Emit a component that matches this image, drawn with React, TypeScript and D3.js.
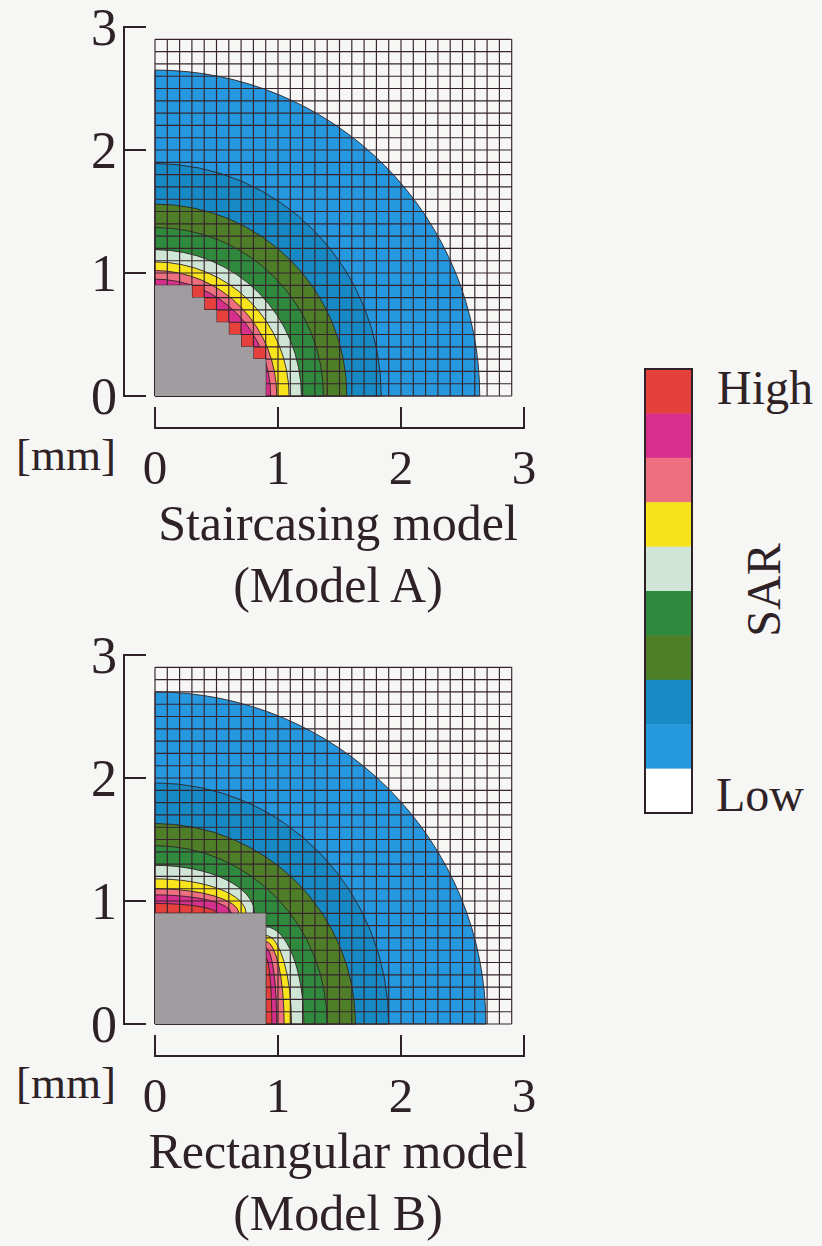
import { useEffect, useRef } from 'react';
import * as d3 from 'd3';

// SAR levels, high -> low
const levelNames = ['red', 'magenta', 'salmon', 'yellow', 'pale', 'green', 'olive', 'teal', 'blue', 'white'];
const levelColors = ['#e6403c', '#d6308c', '#ee7080', '#f8e41c', '#cfe5d6', '#2f8a3e', '#4e7f28', '#178ac6', '#2598df', '#ffffff'];

const axisTicks = [0, 1, 2, 3];
const gridCells = 29; // cells of 0.1 mm
const cellSize = 0.1;

// Model A (staircasing): cells per row, bottom row first
const grayRowsA = [9, 9, 9, 8, 7, 6, 5, 4, 3];
const redRowsA = [0, 0, 0, 1, 1, 1, 1, 1, 1];
const ringLevelsA = ['magenta', 'salmon', 'yellow', 'pale', 'green', 'olive', 'teal', 'blue'];
const ringRxA = [0.94, 0.99, 1.09, 1.19, 1.37, 1.56, 1.84, 2.64];
const ringRyA = [0.95, 1.02, 1.09, 1.19, 1.37, 1.56, 1.89, 2.65];

// Model B (rectangular)
const squareB = 0.9;
const lobeLevelsB = ['red', 'magenta', 'salmon', 'yellow', 'pale'];
const topLobeA = [0.5, 0.62, 0.68, 0.74, 0.81];
const topLobeB = [0.08, 0.15, 0.2, 0.28, 0.39];
const sideLobeA = [0.05, 0.09, 0.15, 0.21, 0.31];
const sideLobeB = [0.54, 0.62, 0.67, 0.72, 0.79];
const ringLevelsB = ['green', 'olive', 'teal', 'blue'];
const ringRxB = [1.4, 1.63, 1.9, 2.69];
const ringRyB = [1.45, 1.63, 1.96, 2.7];

const ink = '#2e2226';
const font = '"Liberation Serif", "Times New Roman", serif';

const App = () => {
    const svgRef = useRef(null);
    const width = 822;
    const height = 1246;

    useEffect(() => {
        const svg = d3.select(svgRef.current);
        svg.selectAll('*').remove();
        svg.append('rect').attr('width', width).attr('height', height).attr('fill', '#f6f6f4');

        const color = d3.scaleOrdinal().domain(levelNames).range(levelColors);

        const drawPanel = (oy, model, title1, title2) => {
            const g = svg.append('g');
            const x = d3.scaleLinear().domain([0, 3]).range([155, 155 + 3 * 123]);
            const y = d3.scaleLinear().domain([0, 3]).range([oy + 396, oy + 396 - 369]);

            // quarter ellipse centred at (cx, cy)
            const lobe = (cx, cy, a, b) =>
                `M${x(cx)},${y(cy)}L${x(cx)},${y(cy + b)}A${x(cx + a) - x(cx)},${y(cy) - y(cy + b)} 0 0 1 ${x(cx + a)},${y(cy)}Z`;

            const bands = g.append('g');
            if (model === 'A') {
                const idx = d3.range(ringLevelsA.length).reverse();
                bands.selectAll('path').data(idx).join('path')
                    .attr('d', i => lobe(0, 0, ringRxA[i], ringRyA[i]))
                    .attr('fill', i => color(ringLevelsA[i]))
                    .attr('stroke', ink).attr('stroke-width', 0.9);
                const redCells = [];
                grayRowsA.forEach((n, j) => {
                    for (let k = 0; k < redRowsA[j]; k++) redCells.push([n + k, j]);
                });
                bands.append('g').selectAll('rect').data(redCells).join('rect')
                    .attr('x', d => x(d[0] * cellSize))
                    .attr('y', d => y((d[1] + 1) * cellSize))
                    .attr('width', x(cellSize) - x(0))
                    .attr('height', y(0) - y(cellSize))
                    .attr('fill', color('red'));
            } else {
                const idx = d3.range(ringLevelsB.length).reverse();
                bands.append('g').selectAll('path').data(idx).join('path')
                    .attr('d', i => lobe(0, 0, ringRxB[i], ringRyB[i]))
                    .attr('fill', i => color(ringLevelsB[i]))
                    .attr('stroke', ink).attr('stroke-width', 0.9);
                const li = d3.range(lobeLevelsB.length).reverse();
                bands.append('g').selectAll('path').data(li).join('path')
                    .attr('d', i => lobe(0, squareB, topLobeA[i], topLobeB[i]))
                    .attr('fill', i => color(lobeLevelsB[i]))
                    .attr('stroke', ink).attr('stroke-width', 0.9);
                bands.append('g').selectAll('path').data(li).join('path')
                    .attr('d', i => lobe(squareB, 0, sideLobeA[i], sideLobeB[i]))
                    .attr('fill', i => color(lobeLevelsB[i]))
                    .attr('stroke', ink).attr('stroke-width', 0.9);
            }

            // mesh
            const lines = d3.range(gridCells + 1).map(i => i * cellSize);
            const gmax = gridCells * cellSize;
            const mesh = g.append('g').attr('stroke', '#36242c').attr('stroke-width', 1.15);
            mesh.selectAll('.v').data(lines).join('line').attr('class', 'v')
                .attr('x1', d => x(d)).attr('x2', d => x(d))
                .attr('y1', y(0)).attr('y2', y(gmax));
            mesh.selectAll('.h').data(lines).join('line').attr('class', 'h')
                .attr('y1', d => y(d)).attr('y2', d => y(d))
                .attr('x1', x(0)).attr('x2', x(gmax));

            // object
            if (model === 'A') {
                const pts = [[0, 0]];
                grayRowsA.forEach((n, j) => {
                    pts.push([n * cellSize, j * cellSize]);
                    pts.push([n * cellSize, (j + 1) * cellSize]);
                });
                pts.push([0, grayRowsA.length * cellSize]);
                g.append('path')
                    .attr('d', d3.line().x(d => x(d[0])).y(d => y(d[1]))(pts) + 'Z')
                    .attr('fill', '#a09c9f');
            } else {
                g.append('rect')
                    .attr('x', x(0)).attr('y', y(squareB))
                    .attr('width', x(squareB) - x(0)).attr('height', y(0) - y(squareB))
                    .attr('fill', '#a09c9f');
            }

            // y axis
            const ya = g.append('g').attr('stroke', ink).attr('stroke-width', 2).attr('fill', 'none');
            ya.append('line').attr('x1', 124).attr('x2', 124).attr('y1', y(3)).attr('y2', y(0));
            ya.selectAll('.t').data(axisTicks).join('line').attr('class', 't')
                .attr('x1', 123).attr('x2', 146).attr('y1', d => y(d)).attr('y2', d => y(d));
            g.append('g').selectAll('text').data(axisTicks).join('text')
                .attr('x', 117).attr('y', d => y(d) + 18)
                .attr('text-anchor', 'end')
                .attr('font-family', font).attr('font-size', 52).attr('fill', ink)
                .text(d => d);

            // x axis
            const xaY = oy + 428;
            const xa = g.append('g').attr('stroke', ink).attr('stroke-width', 2).attr('fill', 'none');
            xa.append('line').attr('x1', x(0)).attr('x2', x(3)).attr('y1', xaY).attr('y2', xaY);
            xa.selectAll('.t').data(axisTicks).join('line').attr('class', 't')
                .attr('x1', d => x(d)).attr('x2', d => x(d)).attr('y1', xaY + 1).attr('y2', xaY - 21);
            g.append('g').selectAll('text').data(axisTicks).join('text')
                .attr('x', d => x(d)).attr('y', oy + 484)
                .attr('text-anchor', 'middle')
                .attr('font-family', font).attr('font-size', 49).attr('fill', ink)
                .text(d => d);
            g.append('text').attr('x', 116).attr('y', oy + 470)
                .attr('text-anchor', 'end')
                .attr('font-family', font).attr('font-size', 45).attr('fill', ink)
                .text('[mm]');

            // titles
            g.append('text').attr('x', 338).attr('y', oy + 540)
                .attr('text-anchor', 'middle')
                .attr('font-family', font).attr('font-size', 50).attr('fill', ink)
                .text(title1);
            g.append('text').attr('x', 338).attr('y', oy + 602)
                .attr('text-anchor', 'middle')
                .attr('font-family', font).attr('font-size', 50).attr('fill', ink)
                .text(title2);
        };

        drawPanel(0, 'A', 'Staircasing model', '(Model A)');
        drawPanel(628, 'B', 'Rectangular model', '(Model B)');

        // colour bar
        const cb = svg.append('g');
        const cy = d3.scaleBand().domain(levelNames).range([369, 813]);
        cb.selectAll('rect').data(levelNames).join('rect')
            .attr('x', 645).attr('width', 47)
            .attr('y', d => cy(d)).attr('height', cy.bandwidth() + 0.5)
            .attr('fill', d => color(d));
        cb.append('rect').attr('x', 645).attr('y', 369).attr('width', 47).attr('height', 444)
            .attr('fill', 'none').attr('stroke', ink).attr('stroke-width', 2);
        cb.append('text').attr('x', 717).attr('y', 404)
            .attr('font-family', font).attr('font-size', 48).attr('fill', ink).text('High');
        cb.append('text').attr('x', 716).attr('y', 811)
            .attr('font-family', font).attr('font-size', 48).attr('fill', ink).text('Low');
        cb.append('text')
            .attr('transform', 'translate(763,590) rotate(-90)')
            .attr('text-anchor', 'middle').attr('dominant-baseline', 'central')
            .attr('font-family', font).attr('font-size', 48).attr('fill', ink).text('SAR');
    }, []);

    return (
        <div>
            <svg ref={svgRef} width={width} height={height}
                style={{ position: 'absolute', left: 0, top: 0 }}></svg>
        </div>
    );
};

export default App;
